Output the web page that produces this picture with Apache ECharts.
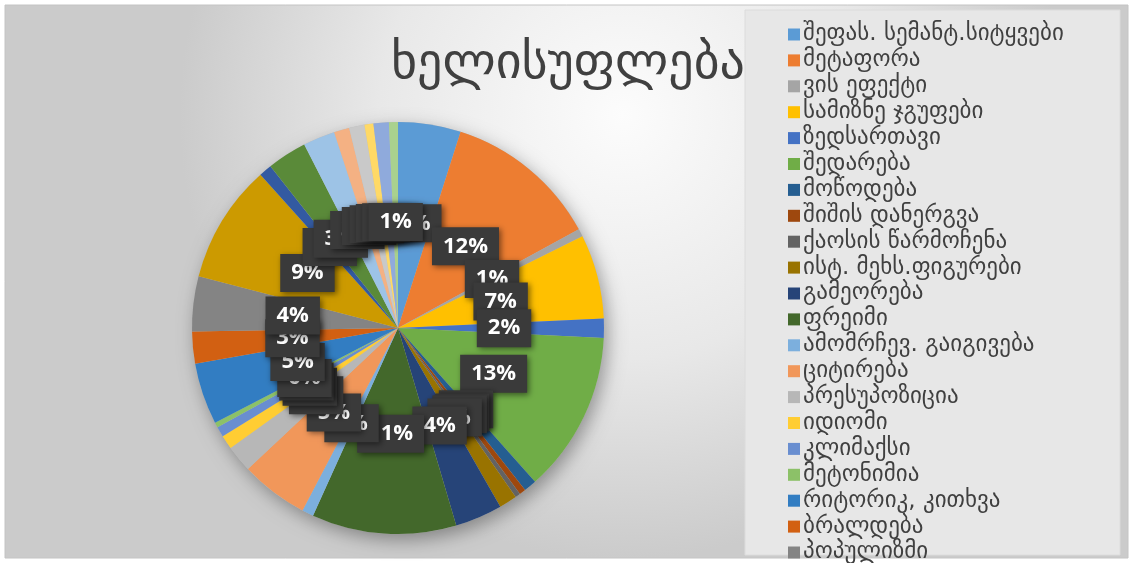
<!DOCTYPE html>
<html>
<head>
<meta charset="utf-8">
<script src="https://cdn.jsdelivr.net/npm/echarts@6/dist/echarts.min.js"></script>
<style>
html,body{margin:0;padding:0;background:#ffffff;}
#chart{width:1133px;height:563px;}
</style>
</head>
<body>
<div id="chart"></div>
<script>
// Chart title
const chartTitle = 'ხელისუფლება';

// Category names (legend shows the first 21; remaining slices are unnamed in the visible legend)
const categories = [
  'შეფას. სემანტ.სიტყვები', 'მეტაფორა', 'ვის ეფექტი', 'სამიზნე ჯგუფები', 'ზედსართავი',
  'შედარება', 'მოწოდება', 'შიშის დანერგვა', 'ქაოსის წარმოჩენა', 'ისტ. მეხს.ფიგურები',
  'გამეორება', 'ფრეიმი', 'ამომრჩევ. გაიგივება', 'ციტირება', 'პრესუპოზიცია',
  'იდიომი', 'კლიმაქსი', 'მეტონიმია', 'რიტორიკ, კითხვა', 'ბრალდება', 'პოპულიზმი',
  '22', '23', '24', '25', '26', '27', '28', '29', '30'
];
const legendCount = 21;

// Slice shares (percent)
const values = [
  4.9, 12.1, 0.6, 6.6, 1.5,
  12.6, 1.0, 0.5, 0.4, 1.4,
  3.7, 11.3, 0.9, 5.3, 2.1,
  1.1, 0.8, 0.4, 4.8, 2.5, 4.3,
  9.3, 1.0, 3.1, 2.5, 1.2, 1.2, 0.7, 1.2, 0.7
];

// Office palette colours
const colors = [
  '#5B9BD5', '#ED7D31', '#A5A5A5', '#FFC000', '#4472C4', '#70AD47',
  '#255E91', '#9E480E', '#636363', '#997300', '#264478', '#43682B',
  '#7CAFDD', '#F1975A', '#B7B7B7', '#FFCD33', '#698ED0', '#8CC168',
  '#327DC2', '#D26012', '#848484', '#CC9A00', '#335AA1', '#5A8A39',
  '#9DC3E6', '#F4B183', '#C9C9C9', '#FFD966', '#8FAADC', '#A9D18E'
];

const geoFont = 'DejaVu Sans';
const chart = echarts.init(document.getElementById('chart'));

const data = categories.map((n, i) => ({ name: n, value: values[i], itemStyle: { color: colors[i] } }));

chart.setOption({
  animation: false,
  graphic: [
    {
      type: 'rect', z: -10, silent: true,
      shape: { x: 5, y: 5, width: 1123, height: 553 },
      style: {
        fill: {
          type: 'radial', x: 0.55, y: 0.2, r: 0.8,
          colorStops: [
            { offset: 0, color: '#fcfcfc' },
            { offset: 0.55, color: '#e8e8e8' },
            { offset: 1, color: '#cbcbcb' }
          ]
        },
        stroke: '#c4c4c4', lineWidth: 1
      }
    },
    {
      type: 'rect', z: -9, silent: true,
      shape: { x: 745, y: 10, width: 375, height: 545 },
      style: { fill: '#e7e7e7', stroke: '#dcdcdc', lineWidth: 1 }
    }
  ],
  title: {
    text: chartTitle,
    left: 386,
    top: 35,
    textStyle: { fontFamily: geoFont, fontSize: 50, fontWeight: 'normal', color: '#404040' }
  },
  legend: {
    orient: 'vertical',
    left: 783,
    top: 18,
    height: 700,
    data: categories.slice(0, legendCount),
    icon: 'rect',
    itemWidth: 12,
    itemHeight: 12,
    itemGap: 2.9,
    textStyle: { fontFamily: geoFont, fontSize: 23, lineHeight: 21, color: '#404040', padding: [0, 0, 0, -2] }
  },
  series: [
    {
      type: 'pie', silent: true, z: 1,
      center: [398, 328], radius: 206,
      label: { show: false }, labelLine: { show: false },
      itemStyle: { color: '#bbbbbb', shadowBlur: 18, shadowColor: 'rgba(0,0,0,0.35)', shadowOffsetX: 4, shadowOffsetY: 6 },
      data: [{ value: 1, name: '' }],
      tooltip: { show: false }
    },
    {
      type: 'pie', z: 2,
      center: [398, 328], radius: 206,
      startAngle: 90, clockwise: true,
      data: data,
      itemStyle: { borderWidth: 0 },
      labelLayout: { hideOverlap: false },
      label: {
        show: true,
        position: 'inside',
        formatter: p => Math.round(p.percent) + '%',
        fontFamily: 'Open Sans',
        fontWeight: 'bold',
        fontSize: 22,
        color: '#ffffff',
        backgroundColor: '#3a3a3a',
        padding: [9, 11, 7, 11],
        shadowBlur: 6, shadowColor: 'rgba(0,0,0,0.5)', shadowOffsetX: 2, shadowOffsetY: 2
      },
      labelLine: { show: false },
      emphasis: { disabled: true }
    }
  ]
});
</script>
</body>
</html>
